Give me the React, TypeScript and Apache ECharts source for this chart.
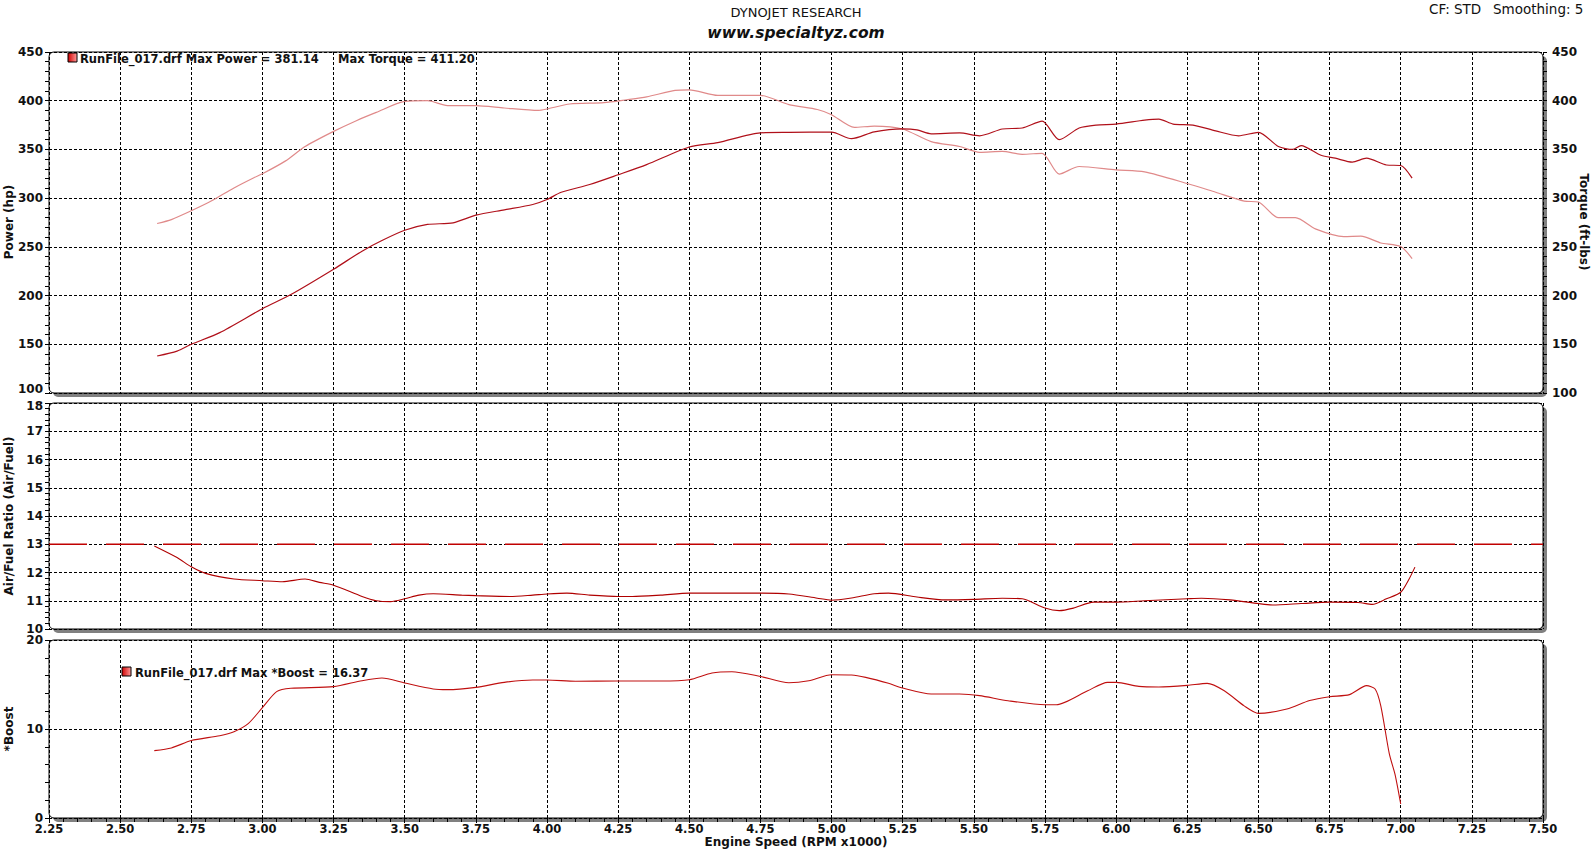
import React, { useEffect, useRef } from "react";
import * as echarts from "echarts";

// ---------- DATA ----------
const powerRpm = [2.63, 2.70, 2.75, 2.85, 3.00, 3.10, 3.25, 3.35, 3.42, 3.50, 3.58, 3.67, 3.75, 3.85, 3.95, 4.00, 4.05, 4.15, 4.25, 4.35, 4.50, 4.60, 4.75, 4.85, 5.00, 5.07, 5.15, 5.25, 5.30, 5.35, 5.45, 5.52, 5.60, 5.67, 5.74, 5.80, 5.87, 5.93, 6.00, 6.10, 6.15, 6.20, 6.27, 6.35, 6.43, 6.50, 6.57, 6.62, 6.65, 6.72, 6.77, 6.83, 6.88, 6.95, 7.00, 7.04];
const powerHp = [138, 143, 150, 162, 186.5, 201, 227, 245.6, 256.5, 267, 273, 274.7, 282.5, 288, 293.5, 298.6, 306, 314, 324, 334.4, 352.5, 357, 367, 367.5, 367.8, 361, 368, 371, 370, 366, 367, 364, 371, 372, 379, 360, 372, 375, 376, 380, 381.1, 376, 375, 369, 364, 367.5, 353, 350, 354, 344, 341, 337, 341, 334, 333.5, 320.5];

const torqueRpm = [2.63, 2.68, 2.75, 2.82, 2.90, 2.97, 3.00, 3.08, 3.15, 3.25, 3.33, 3.40, 3.50, 3.58, 3.65, 3.75, 3.85, 3.97, 4.00, 4.08, 4.20, 4.28, 4.35, 4.45, 4.50, 4.60, 4.75, 4.85, 4.95, 5.00, 5.08, 5.15, 5.25, 5.35, 5.45, 5.52, 5.60, 5.67, 5.74, 5.80, 5.87, 6.00, 6.10, 6.25, 6.35, 6.45, 6.50, 6.57, 6.63, 6.70, 6.80, 6.86, 6.93, 7.00, 7.04];
const torqueFtLbs = [274, 278, 287, 297, 310.5, 321, 325, 338, 353, 368.5, 379.5, 388, 399.3, 400, 395, 395, 392.5, 390, 391.5, 396.6, 398, 401, 404, 410.6, 411.2, 405.5, 405.5, 396, 391, 385.6, 372.6, 374, 371, 358, 353, 347, 348, 345, 346, 324.7, 332.5, 329, 327, 315, 306, 297, 296, 280, 280, 268.5, 260.6, 261, 254, 250.3, 238];

const afrRpm = [2.62, 2.70, 2.75, 2.80, 2.90, 3.00, 3.07, 3.15, 3.20, 3.25, 3.35, 3.40, 3.45, 3.50, 3.55, 3.60, 3.70, 3.75, 3.87, 3.95, 4.00, 4.07, 4.15, 4.25, 4.30, 4.40, 4.50, 4.75, 4.85, 4.95, 5.00, 5.07, 5.15, 5.20, 5.30, 5.40, 5.50, 5.60, 5.67, 5.75, 5.80, 5.85, 5.92, 6.00, 6.10, 6.25, 6.30, 6.40, 6.50, 6.55, 6.65, 6.75, 6.85, 6.90, 6.95, 7.00, 7.03, 7.05];
const afrValues = [12.94, 12.53, 12.2, 11.97, 11.77, 11.71, 11.67, 11.77, 11.65, 11.55, 11.15, 11.0, 10.97, 11.07, 11.2, 11.25, 11.2, 11.18, 11.15, 11.2, 11.24, 11.27, 11.2, 11.15, 11.15, 11.2, 11.27, 11.27, 11.24, 11.09, 11.02, 11.1, 11.25, 11.27, 11.13, 11.03, 11.05, 11.09, 11.07, 10.74, 10.65, 10.74, 10.95, 10.95, 11.0, 11.07, 11.09, 11.03, 10.9, 10.85, 10.9, 10.95, 10.94, 10.87, 11.07, 11.3, 11.78, 12.19];
const afrTarget = 13;

const boostRpm = [2.62, 2.68, 2.75, 2.85, 2.90, 2.95, 3.00, 3.05, 3.10, 3.25, 3.35, 3.42, 3.50, 3.60, 3.65, 3.75, 3.85, 3.95, 4.00, 4.10, 4.25, 4.40, 4.50, 4.58, 4.65, 4.75, 4.85, 4.92, 5.00, 5.07, 5.12, 5.20, 5.25, 5.35, 5.45, 5.52, 5.62, 5.75, 5.79, 5.90, 5.97, 6.00, 6.08, 6.15, 6.25, 6.32, 6.38, 6.45, 6.50, 6.60, 6.68, 6.75, 6.82, 6.88, 6.91, 6.93, 6.96, 6.98, 7.00];
const boostValues = [7.57, 7.87, 8.7, 9.25, 9.7, 10.6, 12.4, 14.2, 14.57, 14.76, 15.43, 15.73, 15.17, 14.5, 14.42, 14.68, 15.24, 15.5, 15.5, 15.36, 15.4, 15.4, 15.54, 16.3, 16.44, 15.9, 15.2, 15.43, 16.1, 16.07, 15.8, 15.13, 14.6, 13.93, 13.93, 13.75, 13.18, 12.73, 12.73, 14.3, 15.24, 15.24, 14.79, 14.72, 14.9, 15.13, 14.3, 12.6, 11.76, 12.25, 13.2, 13.63, 13.86, 14.87, 14.5, 12.6, 7.2, 4.9, 1.57];

const rpmMin = 2.25;
const rpmMax = 7.5;
const rpmStep = 0.25;

// ---------- STYLE ----------
const FONT = '"DejaVu Sans", Verdana, sans-serif';
const PL = 49;
const PW = 1494;
const panels = [
  { top: 52, height: 341 },
  { top: 403, height: 226 },
  { top: 640, height: 178 },
];

const zip = (xs: number[], ys: number[]) => xs.map((x, i) => [x, ys[i]]);

export default function App() {
  const ref = useRef<HTMLDivElement>(null);
  useEffect(() => {
    if (!ref.current) return;
    const chart = echarts.init(ref.current, null, { renderer: "svg" });

    const dash = { color: "#000", type: [3, 2] as any, width: 1 };
    const xAxisBase = (i: number) => ({
      type: "value",
      gridIndex: i,
      min: rpmMin,
      max: rpmMax,
      interval: rpmStep,
      axisLine: { show: false },
      axisTick: { show: i === 2, length: 5, lineStyle: { color: "#000" } },
      minorTick: { show: i === 2, splitNumber: 5, length: 4, lineStyle: { color: "#000" } },
      splitLine: { show: true, lineStyle: dash },
      axisLabel: {
        show: i === 2,
        margin: 5,
        fontFamily: FONT,
        fontWeight: "bold",
        fontSize: 11.5,
        color: "#111",
        formatter: (v: number) => v.toFixed(2),
      },
    });

    const yAxisBase = (
      grid: number,
      min: number,
      max: number,
      interval: number,
      pos: string,
      split: boolean,
      margin: number,
      showMin = true,
      showMax = true
    ) => ({
      type: "value",
      gridIndex: grid,
      min,
      max,
      interval,
      position: pos,
      axisLine: { show: false },
      axisTick: { show: true, length: 4, lineStyle: { color: "#000" } },
      minorTick: { show: true, splitNumber: 5, length: 4, lineStyle: { color: "#000" } },
      splitLine: { show: split, lineStyle: dash },
      axisLabel: {
        margin,
        showMinLabel: showMin,
        showMaxLabel: showMax,
        fontFamily: FONT,
        fontWeight: "bold",
        fontSize: 12,
        color: "#111",
      },
    });

    const frames: any[] = [];
    panels.forEach((p) => {
      frames.push({
        type: "rect",
        z: -20,
        shape: { x: PL + 4, y: p.top + 4, width: PW, height: p.height, r: 5 },
        style: { fill: "#808080" },
      });
      frames.push({
        type: "rect",
        z: -19,
        shape: { x: PL, y: p.top, width: PW, height: p.height, r: 5 },
        style: { fill: "#fff", stroke: "#000", lineWidth: 1 },
      });
    });

    const grad = () =>
      new echarts.graphic.LinearGradient(0, 0, 1, 0, [
        { offset: 0, color: "#d00000" },
        { offset: 1, color: "#ff9a9a" },
      ]);

    const txt = (x: number, y: number, text: string, font: string, align = "left", rotation = 0) => ({
      type: "text",
      x,
      y,
      rotation,
      z: 10,
      style: { text, font, fill: "#111", textAlign: align, textVerticalAlign: "middle" },
    });

    const boldF = `bold 12px ${FONT}`;
    const graphic = [
      ...frames,
      txt(796, 12, "DYNOJET RESEARCH", `13px ${FONT}`, "center"),
      txt(796, 33, "www.specialtyz.com", `italic bold 15.5px ${FONT}`, "center"),
      txt(1429, 9, "CF: STD", `13.5px ${FONT}`),
      txt(1493, 9, "Smoothing: 5", `13.5px ${FONT}`),
      txt(9, 222, "Power (hp)", boldF, "center", Math.PI / 2),
      txt(1584, 222, "Torque (ft-lbs)", boldF, "center", -Math.PI / 2),
      txt(9, 516, "Air/Fuel Ratio (Air/Fuel)", boldF, "center", Math.PI / 2),
      txt(9, 729, "*Boost", boldF, "center", Math.PI / 2),
      txt(796, 842, "Engine Speed (RPM x1000)", boldF, "center"),
      // edge tick labels that sit between two panels
      txt(43, 389, "100", boldF, "right"),
      txt(43, 406, "18", boldF, "right"),
      {
        type: "rect",
        z: 10,
        shape: { x: 68, y: 53, width: 9, height: 9 },
        style: { fill: grad(), stroke: "#000", lineWidth: 1 },
      },
      txt(80, 59, "RunFile_017.drf Max Power = 381.14", `bold 11.5px ${FONT}`),
      txt(338, 59, "Max Torque = 411.20", `bold 11.5px ${FONT}`),
      {
        type: "rect",
        z: 10,
        shape: { x: 122, y: 667, width: 9, height: 9 },
        style: { fill: grad(), stroke: "#000", lineWidth: 1 },
      },
      txt(135, 673, "RunFile_017.drf Max *Boost = 16.37", `bold 11.5px ${FONT}`),
    ];

    const lineSeries = (name: string, data: number[][], xi: number, yi: number, color: string, width = 1, z = 3) => ({
      name,
      type: "line",
      xAxisIndex: xi,
      yAxisIndex: yi,
      data,
      symbol: "none",
      showSymbol: false,
      smooth: 0.25,
      z,
      lineStyle: { color, width },
    });

    chart.setOption({
      animation: false,
      backgroundColor: "#fff",
      grid: panels.map((p) => ({ left: PL, top: p.top, width: PW, height: p.height, containLabel: false })),
      xAxis: [xAxisBase(0), xAxisBase(1), xAxisBase(2)],
      yAxis: [
        yAxisBase(0, 100, 450, 50, "left", true, 6, false, true),
        yAxisBase(0, 100, 450, 50, "right", false, 9),
        yAxisBase(1, 10, 18, 1, "left", true, 6, true, false),
        yAxisBase(2, 0, 20, 10, "left", true, 6),
      ],
      graphic,
      series: [
        lineSeries("Torque", zip(torqueRpm, torqueFtLbs), 0, 1, "#e08a8a", 1.2, 3),
        lineSeries("Power", zip(powerRpm, powerHp), 0, 0, "#b0101a", 1.2, 4),
        {
          name: "AFR target",
          type: "line",
          xAxisIndex: 1,
          yAxisIndex: 2,
          data: [[rpmMin, afrTarget], [rpmMax, afrTarget]],
          symbol: "none",
          z: 3,
          lineStyle: { color: "#c00000", width: 1.5, type: [38, 19] },
        },
        lineSeries("Air/Fuel", zip(afrRpm, afrValues), 1, 2, "#b00000", 1.1, 4),
        lineSeries("Boost", zip(boostRpm, boostValues), 2, 3, "#c01010", 1.1, 4),
      ],
    });

    return () => chart.dispose();
  }, []);

  return (
    <div
      ref={ref}
      style={{ position: "fixed", left: 0, top: 0, width: 1592, height: 849, background: "#fff" }}
    />
  );
}
